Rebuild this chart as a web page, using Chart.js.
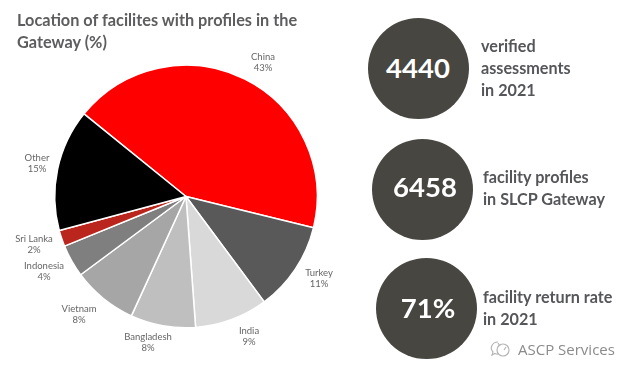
<!DOCTYPE html>
<html>
<head>
<meta charset="utf-8">
<script src="https://cdn.jsdelivr.net/npm/chart.js@4/dist/chart.umd.js"></script>
<style>
  html, body { margin: 0; padding: 0; background: #fff; }
  body { position: relative; width: 636px; height: 375px; overflow: hidden; font-family: Lato, sans-serif; }
  #chart { position: absolute; left: 0; top: 0; }
  .title { position: absolute; left: 17px; top: 9px; font-size: 16.3px; line-height: 22px; font-weight: 700; color: #5d5d5f; white-space: nowrap; }
  .circle { position: absolute; width: 101px; height: 101px; border-radius: 50%; background: #474641; }
  .num { position: absolute; transform: translate(-50%, -50%); color: #fff; font-size: 27.5px; font-weight: 700; line-height: 1; }
  .note { position: absolute; font-size: 16.2px; line-height: 22px; font-weight: 700; color: #55565a; white-space: nowrap; }
  .mark { position: absolute; left: 490px; top: 340px; display: flex; align-items: center; gap: 7px; color: #8b8b8b; font-family: "Open Sans", sans-serif; font-size: 15px; line-height: 18px; text-shadow: 0 0 2px #fff; }
</style>
</head>
<body>
<canvas id="chart" width="636" height="375"></canvas>
<div class="title">Location of facilites with profiles in the<br>Gateway (%)</div>
<div id="kpis"></div>
<div class="mark">
  <svg width="21" height="18" viewBox="0 0 21 18" fill="none" stroke="#b5b5b5" stroke-width="1.2">
    <path d="M8 2a6.5 6 0 0 0-5 10l-1 3 3-1.5a6.5 6 0 0 0 3 .7"/>
    <circle cx="13" cy="10" r="6"/>
    <path d="M8 3l2 3M16 7l-2 3"/>
  </svg>
  <span>ASCP Services</span>
</div>

<script>
const categories = ["China", "Turkey", "India", "Bangladesh", "Vietnam", "Indonesia", "Sri Lanka", "Other"];
const shares = [43, 11, 9, 8, 8, 4, 2, 15];
const sliceColors = ["#ff0000", "#595959", "#d9d9d9", "#bfbfbf", "#a6a6a6", "#7f7f7f", "#ba261d", "#000000"];

const kpiValues = ["4440", "6458", "71%"];
const kpiNotes = [
  ["verified", "assessments", "in 2021"],
  ["facility profiles", "in SLCP Gateway"],
  ["facility return rate", "in 2021"],
];

// label spots, same order as categories
const labelSpots = [[263, 57], [319, 273], [249, 331], [148, 337], [79, 309], [44, 266], [34, 239], [37, 158]];
const kpiLayout = [
  { cx: 418.5, cy: 68.5, numX: 418, numY: 68, noteX: 481, noteY: 35 },
  { cx: 422, cy: 189, numX: 425, numY: 187, noteX: 483, noteY: 166 },
  { cx: 426, cy: 308.5, numX: 428, numY: 308, noteX: 483, noteY: 286 },
];

// Slice labels, two lines each
const sliceLabels = {
  id: "sliceLabels",
  afterDraw(chart) {
    const ctx = chart.ctx;
    ctx.save();
    ctx.font = "9.5px Lato, sans-serif";
    ctx.fillStyle = "#666666";
    ctx.textAlign = "center";
    ctx.textBaseline = "middle";
    categories.forEach((name, i) => {
      const [x, y] = labelSpots[i];
      ctx.fillText(name, x, y);
      ctx.fillText(shares[i] + "%", x, y + 11);
    });
    ctx.restore();
  },
};

new Chart(document.getElementById("chart"), {
  type: "pie",
  data: {
    labels: categories,
    datasets: [
      {
        data: shares,
        backgroundColor: sliceColors,
        borderColor: "#ffffff",
        borderWidth: 1.5,
      },
    ],
  },
  options: {
    responsive: false,
    animation: false,
    rotation: -51,
    layout: { padding: { left: 54, right: 318, top: 64, bottom: 46 } },
    plugins: {
      legend: { display: false },
      tooltip: { enabled: false },
    },
  },
  plugins: [sliceLabels],
});

// KPI circles on the right
const kpis = document.getElementById("kpis");
kpiValues.forEach((value, i) => {
  const pos = kpiLayout[i];
  const circle = document.createElement("div");
  circle.className = "circle";
  circle.style.left = pos.cx - 50.5 + "px";
  circle.style.top = pos.cy - 50.5 + "px";
  kpis.appendChild(circle);

  const num = document.createElement("div");
  num.className = "num";
  num.textContent = value;
  num.style.left = pos.numX + "px";
  num.style.top = pos.numY + "px";
  kpis.appendChild(num);

  const note = document.createElement("div");
  note.className = "note";
  note.innerHTML = kpiNotes[i].join("<br>");
  note.style.left = pos.noteX + "px";
  note.style.top = pos.noteY + "px";
  kpis.appendChild(note);
});
</script>
</body>
</html>
